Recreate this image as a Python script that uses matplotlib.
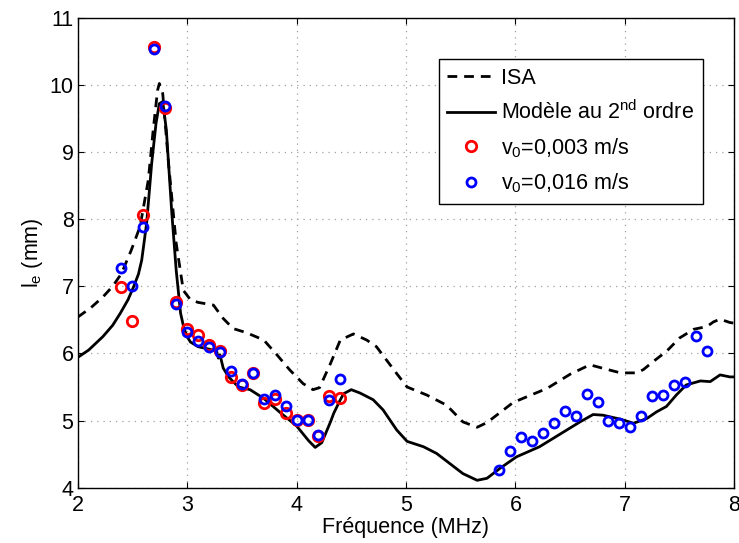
import matplotlib
matplotlib.use("Agg")
import matplotlib.pyplot as plt

plt.rcParams['font.family'] = ['Liberation Sans', 'DejaVu Sans']
plt.rcParams['mathtext.fontset'] = 'custom'
plt.rcParams['mathtext.rm'] = 'Liberation Sans'

# ISA curve (dashed)
isa_f = [2.00, 2.12, 2.23, 2.32, 2.40, 2.49, 2.57, 2.645, 2.69, 2.73, 2.746, 2.777, 2.83, 2.90, 2.965,
         3.03, 3.10, 3.24, 3.33, 3.42, 3.54, 3.70, 3.82, 3.94, 4.06, 4.15, 4.21, 4.31, 4.40,
         4.52, 4.64, 4.73, 4.915, 5.01, 5.19, 5.37, 5.52, 5.65, 5.74, 5.98, 6.29, 6.50, 6.68,
         6.96, 7.11, 7.17, 7.26, 7.38, 7.50, 7.63, 7.75, 7.81, 7.87, 7.96, 8.00]
isa_v = [6.54, 6.68, 6.84, 7.00, 7.19, 7.54, 7.89, 8.58, 9.33, 9.92, 10.02, 9.87, 8.83, 7.64, 6.94,
         6.80, 6.76, 6.72, 6.52, 6.37, 6.31, 6.20, 5.98, 5.75, 5.55, 5.46, 5.49, 5.85, 6.20,
         6.29, 6.20, 6.10, 5.70, 5.50, 5.38, 5.23, 4.98, 4.90, 4.97, 5.27, 5.48, 5.69, 5.83,
         5.71, 5.71, 5.76, 5.88, 6.03, 6.23, 6.36, 6.40, 6.47, 6.51, 6.46, 6.45]

# Second order model (solid)
mod_f = [2.00, 2.10, 2.23, 2.32, 2.39, 2.46, 2.51, 2.555, 2.585, 2.63, 2.676, 2.716, 2.746, 2.777,
         2.81, 2.86, 2.90, 2.94, 2.97, 3.00, 3.03, 3.10, 3.21, 3.27, 3.285, 3.30, 3.33, 3.38, 3.42,
         3.47, 3.575, 3.70, 3.85, 4.00, 4.11, 4.17, 4.23, 4.31, 4.34, 4.40, 4.43, 4.50, 4.58, 4.70,
         4.79, 4.915, 5.01, 5.16, 5.28, 5.40, 5.52, 5.65, 5.74, 5.86, 6.01, 6.22, 6.44, 6.59,
         6.71, 6.80, 6.96, 7.08, 7.20, 7.29, 7.38, 7.47, 7.56, 7.69, 7.78, 7.87, 7.96, 8.00]
mod_v = [5.94, 6.05, 6.25, 6.42, 6.60, 6.80, 6.99, 7.18, 7.39, 7.94, 8.83, 9.43, 9.72, 9.75,
         9.33, 8.09, 7.24, 6.60, 6.38, 6.25, 6.17, 6.10, 6.06, 6.03, 5.93, 5.98, 5.78, 5.65, 5.58,
         5.50, 5.46, 5.33, 5.12, 4.92, 4.70, 4.60, 4.67, 4.98, 5.11, 5.31, 5.40, 5.46, 5.41, 5.31,
         5.16, 4.86, 4.69, 4.61, 4.51, 4.36, 4.21, 4.11, 4.14, 4.29, 4.46, 4.61, 4.83, 4.98,
         5.09, 5.08, 5.02, 4.96, 5.03, 5.13, 5.21, 5.38, 5.53, 5.59, 5.58, 5.68, 5.65, 5.65]

# Measurements v0 = 0,003 m/s (red)
red_f = [2.4, 2.5, 2.6, 2.7, 2.8, 2.9, 3.0, 3.1, 3.2, 3.3, 3.4, 3.5, 3.6, 3.7, 3.8, 3.9,
         4.0, 4.1, 4.2, 4.3, 4.4]
red_v = [6.99, 6.49, 8.06, 10.57, 9.66, 6.77, 6.36, 6.27, 6.12, 6.03, 5.65, 5.53, 5.71,
         5.26, 5.32, 5.11, 5.01, 5.01, 4.77, 5.37, 5.33]

# Measurements v0 = 0,016 m/s (blue)
blue_f = [2.4, 2.5, 2.6, 2.7, 2.8, 2.9, 3.0, 3.1, 3.2, 3.3, 3.4, 3.5, 3.6, 3.7, 3.8, 3.9,
          4.0, 4.1, 4.2, 4.3, 4.4,
          5.85, 5.95, 6.05, 6.15, 6.25, 6.35, 6.45, 6.55, 6.65, 6.75, 6.85, 6.95, 7.05,
          7.15, 7.25, 7.35, 7.45, 7.55, 7.65, 7.75]
blue_v = [7.27, 7.00, 7.88, 10.53, 9.69, 6.74, 6.32, 6.19, 6.09, 6.02, 5.74, 5.55, 5.71,
          5.32, 5.38, 5.21, 5.01, 5.01, 4.78, 5.30, 5.62,
          4.26, 4.54, 4.76, 4.70, 4.82, 4.97, 5.14, 5.07, 5.39, 5.27, 5.00, 4.97, 4.90,
          5.07, 5.37, 5.38, 5.53, 5.57, 6.26, 6.03]

x_ticks = [2, 3, 4, 5, 6, 7, 8]
y_ticks = [4, 5, 6, 7, 8, 9, 10, 11]

FS = 15.5

fig = plt.figure(figsize=(7.39, 5.43), dpi=100)
ax = fig.add_axes([77.7 / 739, 1 - 487.7 / 543, (734.3 - 77.7) / 739, (487.7 - 17.7) / 543])

ax.plot(isa_f, isa_v, color='black', lw=2.0, ls=(0, (3.5, 2.5)), label='ISA')
ax.plot(mod_f, mod_v, color='black', lw=2.0, ls='-', label=r'Modèle au 2$^\mathregular{nd}$ ordre')
ax.plot(red_f, red_v, ls='none', marker='o', ms=7.5, mfc='none', mec='red', mew=2.0,
        label=r'v$_\mathregular{0}$=0,003 m/s')
ax.plot(blue_f, blue_v, ls='none', marker='o', ms=6.5, mfc='none', mec='blue', mew=2.0,
        label=r'v$_\mathregular{0}$=0,016 m/s')

ax.set_xlim(2, 8)
ax.set_ylim(4, 11)
ax.set_xticks(x_ticks)
ax.set_yticks(y_ticks)
ax.tick_params(direction='in', length=4, width=0.8, top=True, right=True, labelsize=FS)
ax.tick_params(axis='x', pad=5)
ax.tick_params(axis='y', pad=3)
ax.grid(True, color='#a0a0a0', ls=(0, (1, 4)), lw=0.9)
for s in ax.spines.values():
    s.set_linewidth(1.0)

ax.set_xlabel('Fréquence (MHz)', fontsize=FS, labelpad=1)
ax.set_ylabel(r'l$_\mathregular{e}$ (mm)', fontsize=FS, labelpad=3)

leg = ax.legend(loc='upper right', bbox_to_anchor=(0.952, 0.912), fontsize=FS,
                frameon=True, fancybox=False, edgecolor='black', framealpha=1,
                handlelength=2.2, handletextpad=0.3, borderpad=0.4, labelspacing=0.55,
                borderaxespad=0)
leg.get_frame().set_linewidth(1.0)

fig.savefig('out.png', dpi=100)
